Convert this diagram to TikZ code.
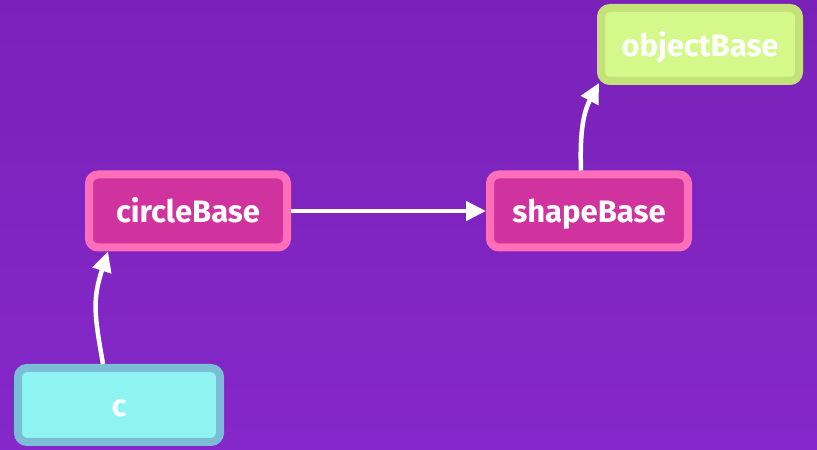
\documentclass[tikz,border=0pt]{standalone}
\usepackage{fontspec}
\setmainfont{Fira Sans}
\usetikzlibrary{arrows.meta}
\definecolor{bgtop}{HTML}{7A22B8}
\definecolor{bgbot}{HTML}{8527CA}
\definecolor{pinkfill}{HTML}{D0339E}
\definecolor{pinkline}{HTML}{FF6EB8}
\definecolor{limefill}{HTML}{D4F98A}
\definecolor{limeline}{HTML}{C4E27A}
\definecolor{cyanfill}{HTML}{8EF4F1}
\definecolor{cyanline}{HTML}{7ABDD5}
\tikzset{
  box/.style={rectangle, rounded corners=9pt, line width=8pt,
    minimum width=198pt, minimum height=73pt, inner sep=0pt,
    text height=24pt, text depth=0pt,
    text=white, font=\fontsize{31}{36}\selectfont\bfseries},
  basebox/.style={box, fill=pinkfill, draw=pinkline},
  rootbox/.style={box, fill=limefill, draw=limeline},
  leafbox/.style={box, fill=cyanfill, draw=cyanline, minimum width=202pt, minimum height=74pt},
  link/.style={white, line width=4.5pt,
    -{Triangle[length=20pt,width=19pt]}}
}
\begin{document}
\begin{tikzpicture}[x=1pt,y=1pt]
  \shade[top color=bgtop, bottom color=bgbot] (0,0) rectangle (817,450);
  \useasboundingbox (0,0) rectangle (817,450);

  \node[rootbox] (objectBase) at (700,405.5) {objectBase};
  \node[basebox] (circleBase) at (188,239) {circleBase};
  \node[basebox] (shapeBase)  at (589,239) {shapeBase};
  \node[leafbox] (c)          at (119,45)  {c};

  \draw[link] ([xshift=-16pt]c.north) to[out=100,in=-108,looseness=1.15] ([xshift=-80pt]circleBase.south);
  \draw[link] (circleBase.east) -- (shapeBase.west);
  \draw[link] ([xshift=-8pt]shapeBase.north) to[out=92,in=-118] ([xshift=2pt,yshift=2pt]objectBase.south west);
\end{tikzpicture}
\end{document}
